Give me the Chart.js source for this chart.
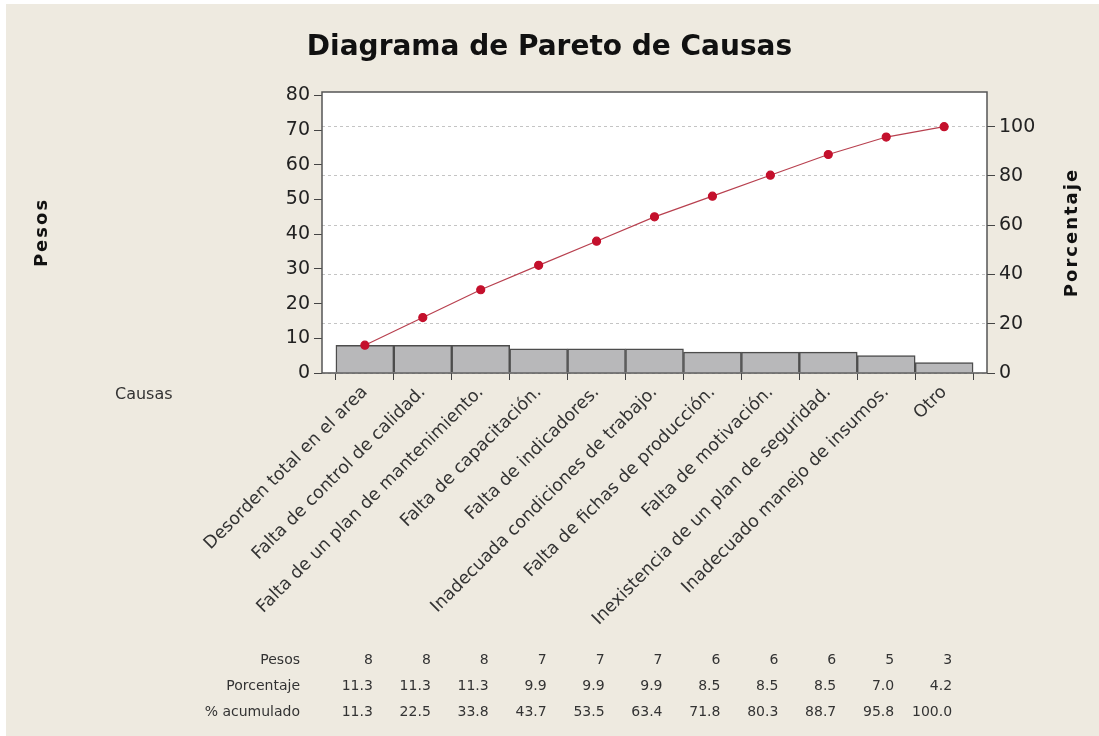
<!DOCTYPE html>
<html>
<head>
<meta charset="utf-8">
<script src="https://cdn.jsdelivr.net/npm/chart.js@4.4.1/dist/chart.umd.min.js"></script>
<style>
  html, body { margin: 0; padding: 0; background: #fff; }
  canvas { display: block; }
</style>
</head>
<body>
<canvas id="pareto" width="1099" height="736"></canvas>
<script>
// causas ordenadas de mayor a menor peso
const causas = [
  "Desorden total en el area",
  "Falta de control de calidad.",
  "Falta de un plan de mantenimiento.",
  "Falta de capacitación.",
  "Falta de indicadores.",
  "Inadecuada condiciones de trabajo.",
  "Falta de fichas de producción.",
  "Falta de motivación.",
  "Inexistencia de un plan de seguridad.",
  "Inadecuado manejo de insumos.",
  "Otro"
];
const pesos = [8, 8, 8, 7, 7, 7, 6, 6, 6, 5, 3];
const porcentaje = [11.3, 11.3, 11.3, 9.9, 9.9, 9.9, 8.5, 8.5, 8.5, 7.0, 4.2];
const acumulado = [11.3, 22.5, 33.8, 43.7, 53.5, 63.4, 71.8, 80.3, 88.7, 95.8, 100.0];
const filasTabla = ["Pesos", "Porcentaje", "% acumulado"];

const totalPesos = pesos.reduce((a, b) => a + b, 0);
const maxPesos = 81;
const FONT = "'DejaVu Sans', Tahoma, sans-serif";

// fondo beige y area de grafico blanca
const fondo = {
  id: 'fondo',
  beforeDraw(chart) {
    const { ctx, chartArea: a, width, height } = chart;
    ctx.save();
    ctx.fillStyle = '#eeeae0';
    ctx.fillRect(6, 4, width - 6, height - 4);
    ctx.fillStyle = '#ffffff';
    ctx.fillRect(a.left, a.top, a.right - a.left, a.bottom - a.top);
    ctx.restore();
  }
};

// marco, titulos de ejes y tabla inferior
const extras = {
  id: 'extras',
  afterDraw(chart) {
    const { ctx, chartArea: a } = chart;
    const xs = chart.scales.x;
    ctx.save();
    ctx.strokeStyle = '#555';
    ctx.lineWidth = 1.5;
    ctx.strokeRect(a.left, a.top, a.right - a.left, a.bottom - a.top);

    const midY = (a.top + a.bottom) / 2;
    ctx.fillStyle = '#111';
    ctx.font = 'bold 18px ' + FONT;
    ctx.textAlign = 'center';
    ctx.textBaseline = 'middle';
    ctx.letterSpacing = '2px';
    [['Pesos', 42], ['Porcentaje', 1072]].forEach(([t, x]) => {
      ctx.save();
      ctx.translate(x, midY);
      ctx.rotate(-Math.PI / 2);
      ctx.fillText(t, 0, 0);
      ctx.restore();
    });
    ctx.letterSpacing = '0px';

    ctx.fillStyle = '#333';
    ctx.font = '16px ' + FONT;
    ctx.textAlign = 'left';
    ctx.fillText('Causas', 115, 395);

    const filas = [pesos.map(String), porcentaje.map(v => v.toFixed(1)), acumulado.map(v => v.toFixed(1))];
    const ys = [660, 686, 712];
    ctx.font = '14px ' + FONT;
    filas.forEach((fila, r) => {
      ctx.textAlign = 'right';
      ctx.fillText(filasTabla[r], 300, ys[r]);
      fila.forEach((v, i) => {
        ctx.fillText(v, xs.getPixelForValue(i) + 8, ys[r]);
      });
    });
    ctx.restore();
  }
};

new Chart(document.getElementById('pareto'), {
  data: {
    datasets: [
      {
        type: 'line',
        label: '% acumulado',
        data: acumulado.map((v, i) => ({ x: i, y: v })),
        yAxisID: 'y1',
        borderColor: '#b8404f',
        borderWidth: 1.2,
        pointBackgroundColor: '#c4102c',
        pointBorderColor: '#c4102c',
        pointRadius: 4,
        order: 1
      },
      {
        type: 'bar',
        label: 'Pesos',
        data: pesos.map((v, i) => ({ x: i, y: v })),
        yAxisID: 'y',
        backgroundColor: '#b8b8ba',
        borderColor: '#4d4d4d',
        borderWidth: 1.5,
        barPercentage: 1,
        categoryPercentage: 1,
        order: 2
      }
    ]
  },
  options: {
    responsive: false,
    animation: false,
    layout: { padding: 0 },
    plugins: {
      legend: { display: false },
      tooltip: { enabled: false },
      title: {
        display: true,
        text: 'Diagrama de Pareto de Causas',
        color: '#111',
        font: { family: FONT, size: 28, weight: 'bold' },
        padding: { top: 31, bottom: 27.4 }
      }
    },
    scales: {
      x: {
        type: 'linear',
        min: -0.74,
        max: causas.length - 1 + 0.74,
        offset: false,
        border: { display: false },
        grid: { drawOnChartArea: false, drawTicks: true, tickLength: 7, tickColor: '#444' },
        ticks: {
          stepSize: 1,
          includeBounds: false,
          autoSkip: false,
          minRotation: 45,
          maxRotation: 45,
          padding: 2,
          color: '#333',
          font: { family: FONT, size: 17.5 },
          callback: v => causas[v] ?? ''
        },
        afterFit: s => { s.height = 736 - 373; }
      },
      y: {
        position: 'left',
        min: 0,
        max: maxPesos,
        border: { display: false },
        grid: { drawOnChartArea: false, tickLength: 8, tickColor: '#444' },
        ticks: { stepSize: 10, includeBounds: false, padding: 4, color: '#222', font: { family: FONT, size: 19 } },
        afterFit: s => { s.width = 322; }
      },
      y1: {
        position: 'right',
        min: 0,
        max: maxPesos / totalPesos * 100,
        border: { display: false, dash: [3, 3] },
        grid: { drawOnChartArea: true, color: '#c4c4c4', tickLength: 8, tickColor: '#444' },
        ticks: { stepSize: 20, includeBounds: false, padding: 4, color: '#222', font: { family: FONT, size: 19 } },
        afterFit: s => { s.width = 112; }
      }
    }
  },
  plugins: [fondo, extras]
});
</script>
</body>
</html>
